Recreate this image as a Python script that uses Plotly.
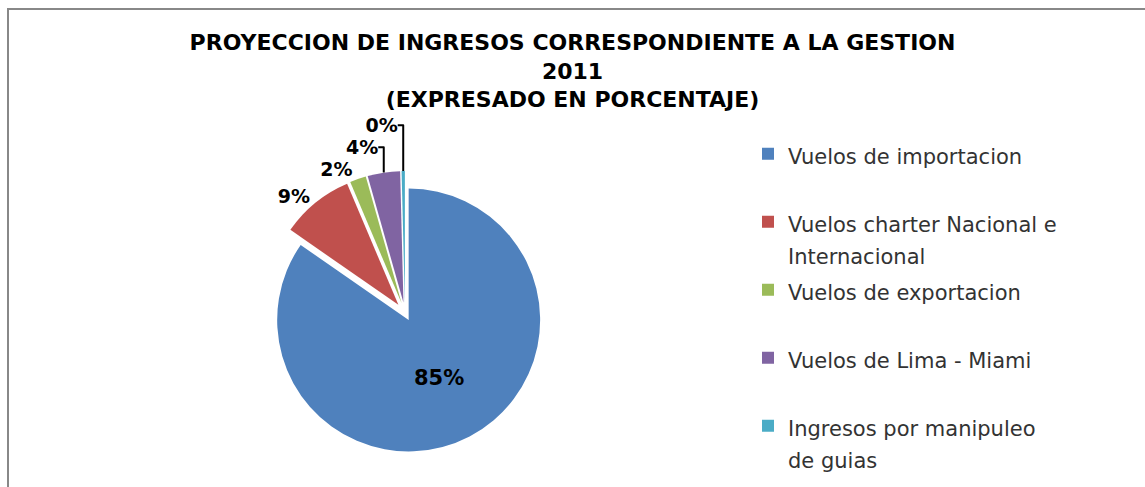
import plotly.graph_objects as go

categories = [
    "Vuelos de importacion",
    "Vuelos charter Nacional e<br>Internacional",
    "Vuelos de exportacion",
    "Vuelos de Lima - Miami",
    "Ingresos por manipuleo<br>de guias",
]
values = [85, 9, 2, 4, 0.4]
colors = ["#4F81BD", "#C0504D", "#9BBB59", "#8064A2", "#4BACC6"]
text_positions = ["inside", "outside", "outside", "outside", "outside"]

W, H = 1145, 487


def legend_label(c):
    lines = c.split("<br>")
    shown = "<br>".join(f"<span style='font-size:21px'>{ln}</span>" for ln in lines)
    return shown if len(lines) > 1 else shown + "<br> "


legend_labels = [legend_label(c) for c in categories]

fig = go.Figure()
fig.add_trace(go.Pie(
    labels=legend_labels,
    values=values,
    sort=False,
    direction="clockwise",
    rotation=0,
    marker=dict(colors=colors, line=dict(color="white", width=0)),
    pull=[0.06, 0.08, 0.08, 0.08, 0.08],
    texttemplate="<b>%{percent:.0%}</b>",
    textposition=text_positions,
    insidetextfont=dict(family="DejaVu Sans", size=21, color="black"),
    outsidetextfont=dict(family="DejaVu Sans", size=19, color="black"),
    domain=dict(x=[(405 - 142) / W, (405 + 142) / W], y=[1 - 455 / H, 1 - 171 / H]),
    hoverinfo="percent",
))

fig.update_layout(
    width=W, height=H,
    margin=dict(l=0, r=0, t=0, b=0),
    paper_bgcolor="white",
    plot_bgcolor="white",
    title=dict(
        text="<b>PROYECCION DE INGRESOS CORRESPONDIENTE A LA GESTION<br>2011<br>(EXPRESADO EN PORCENTAJE)</b>",
        x=0.5, xanchor="center",
        y=1 - 50 / H, yanchor="top", yref="container",
        font=dict(family="DejaVu Sans", size=22, color="black"),
    ),
    legend=dict(
        x=748 / W, xanchor="left",
        y=1 - 131 / H, yanchor="top",
        font=dict(family="DejaVu Sans", size=25, color="#333333"),
        valign="top",
        bgcolor="rgba(0,0,0,0)",
        traceorder="normal",
        maxheight=480,
    ),
    shapes=[dict(
        type="rect", xref="paper", yref="paper",
        x0=8 / W, x1=1.05, y0=-0.05, y1=1 - 9 / H,
        line=dict(color="#888888", width=2),
        fillcolor="rgba(0,0,0,0)",
    )],
)

fig.write_html("out.html")
